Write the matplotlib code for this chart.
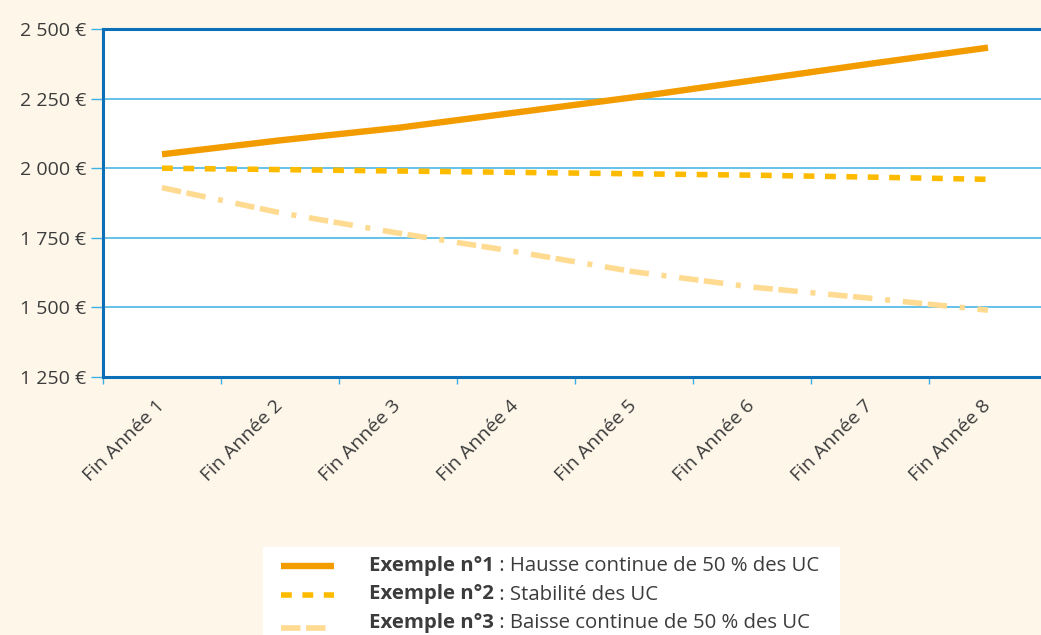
import matplotlib.pyplot as plt
import numpy as np

# valeurs des trois exemples (fin d'année 1 à 8)
annees = ['Fin Année 1', 'Fin Année 2', 'Fin Année 3', 'Fin Année 4',
          'Fin Année 5', 'Fin Année 6', 'Fin Année 7', 'Fin Année 8']
hausse = [2050, 2100, 2145, 2200, 2255, 2315, 2375, 2433]
stable = [2000, 1995, 1990, 1985, 1980, 1975, 1968, 1960]
baisse = [1930, 1840, 1767, 1700, 1628, 1573, 1533, 1490]

yticks = [1250, 1500, 1750, 2000, 2250, 2500]
ylabels = ['1 250 €', '1 500 €', '1 750 €', '2 000 €', '2 250 €', '2 500 €']

noms = ['Exemple n°1', 'Exemple n°2', 'Exemple n°3']
textes = [' : Hausse continue de 50 % des UC',
          ' : Stabilité des UC',
          ' : Baisse continue de 50 % des UC']

fond = '#fdf6e9'
bleu = '#0a6fb7'
bleu_clair = '#3cb0e2'
gris = '#3c3c3c'
styles = [
    dict(color='#f39c00', lw=4.6, ls='-', solid_capstyle='butt'),
    dict(color='#fdbb00', lw=4.0, ls=(0, (1.95, 1.9)), dash_capstyle='butt'),
    dict(color='#fedb91', lw=4.0, ls=(0, (3.5, 1.0, 3.5, 2.3, 0.9, 2.3)),
         dash_capstyle='butt'),
]

plt.rcParams['font.family'] = ['Open Sans', 'DejaVu Sans']

W, H = 1041, 635
fig = plt.figure(figsize=(W / 100, H / 100), dpi=100, facecolor=fond)
ax = fig.add_axes([103 / W, 1 - 377 / H, (W - 103) / W, 348 / H])
ax.set_facecolor('white')

x = np.arange(1, len(annees) + 1)
for serie, st in zip([hausse, stable, baisse], styles):
    ax.plot(x, serie, zorder=3, **st)

ax.set_xlim(0.5, 0.5 + (W - 103) / 118)
ax.set_ylim(1250, 2500)

ax.set_yticks(yticks)
ax.set_yticklabels(ylabels, fontsize=14, color=gris)
ax.tick_params(axis='y', length=9, width=1, color=bleu_clair, pad=3)
for v in yticks[1:-1]:
    ax.axhline(v, color=bleu_clair, lw=1.1, zorder=1)

ax.set_xticks(x)
ax.set_xticklabels(annees, rotation=45, ha='right', va='center',
                   rotation_mode='anchor', fontsize=14, color=gris)
ax.tick_params(axis='x', length=0, pad=19)
ax.set_xticks(x - 0.5, minor=True)
ax.tick_params(axis='x', which='minor', length=5, width=1, color=bleu_clair)

for s in ['left', 'top', 'bottom']:
    ax.spines[s].set_color(bleu)
    ax.spines[s].set_linewidth(2.2)
ax.spines['right'].set_visible(False)

# légende
lg = fig.add_axes([263 / W, 0, (840 - 263) / W, (635 - 547) / H])
lg.set_xlim(263, 840)
lg.set_ylim(635, 547)
lg.axis('off')
lg.add_patch(plt.Rectangle((263, 547), 577, 88, color='white', zorder=0))
for i, (nom, txt, st) in enumerate(zip(noms, textes, styles)):
    yy = 566 + i * 28.5
    lg.plot([281, 334], [yy + (5 if i == 2 else 0)] * 2, clip_on=False, **st)
    t = lg.text(369, yy, nom, fontsize=14.7, fontweight='bold', color=gris,
                va='center')
    lg.annotate(txt, xy=(1, 0.5), xycoords=t, va='center', ha='left',
                fontsize=14.7, color=gris)

fig.savefig('out.png', dpi=100, facecolor=fond)
